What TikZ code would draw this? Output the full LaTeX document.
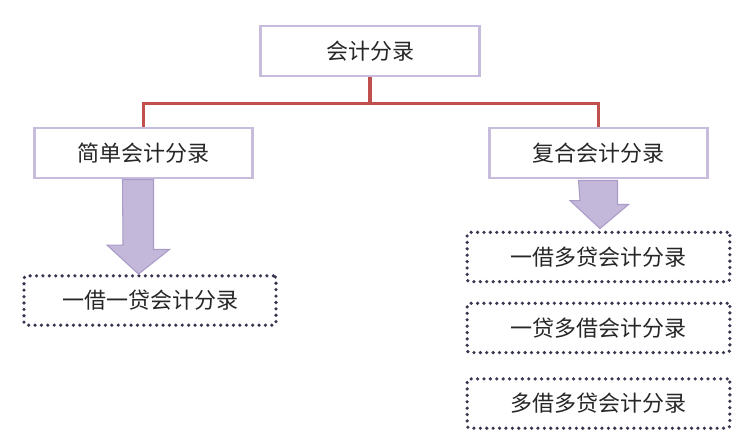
\documentclass[tikz,border=0pt]{standalone}
\usepackage{fontspec}
\usepackage{xcolor}
\usepackage{tikz}
\usetikzlibrary{positioning,calc}
\newfontfamily\cjk{Noto Sans CJK SC}
\definecolor{boxline}{RGB}{200,188,220}
\definecolor{linkred}{RGB}{192,80,77}
\definecolor{arrowfill}{RGB}{196,184,218}
\definecolor{arrowline}{RGB}{170,155,200}
\definecolor{dotline}{RGB}{60,52,80}
\definecolor{txt}{RGB}{38,38,38}

\begin{document}
\begin{tikzpicture}[x=0.75pt,y=-0.75pt,every node/.style={font=\cjk\fontsize{16.5}{20}\selectfont,text=txt}]
  \tikzstyle{cat}=[draw=boxline, line width=2.2pt, fill=white, minimum width=164pt, minimum height=37.5pt, inner sep=0pt]
  \tikzstyle{kind}=[draw=dotline, line width=2.7pt, line cap=round, dash pattern=on 0pt off 4.8pt, rounded corners=2pt, minimum height=37pt, inner sep=0pt]
  \tikzstyle{link}=[draw=linkred, line width=2.3pt]
  \tikzstyle{block}=[fill=arrowfill, draw=arrowline, line width=0.8pt, line join=miter]
  \useasboundingbox (0,0) rectangle (748,444);
  % top level
  \node[cat] (root) at (370,51) {会计分录};
  \node[cat] (simple) at (143.5,153) {简单会计分录};
  \node[cat] (compound) at (598.5,153) {复合会计分录};
  \draw[link] (root.south) -- ++(0,26) coordinate (fork) -| (simple.north);
  \draw[link] (fork) -| (compound.north);
  % leaves
  \node[kind, minimum width=189pt] (oneone) at (150,300.5) {一借一贷会计分录};
  \node[kind, minimum width=197pt] (onemany) at (598.5,257) {一借多贷会计分录};
  \node[kind, minimum width=197pt, below=13.5pt of onemany] (manyone) {一贷多借会计分录};
  \node[kind, minimum width=197pt, below=17pt of manyone] (manymany) {多借多贷会计分录};
  % block arrows
  \draw[block] ($(simple.south)+(-21,0)$) -- ++(31,0) -- ++(0,70) -- ++(16,0)
    -- ($(oneone.north)+(-11.5,0)$) -- ++(-31.5,-29) -- ++(16,0) -- cycle;
  \draw[block] ($(compound.south)+(-20,1)$) -- ++(39,0) -- ++(0,24) -- ++(11,0)
    -- ($(onemany.north)+(1.5,-2)$) -- ++(-30,-28) -- ++(10,0) -- cycle;
\end{tikzpicture}
\end{document}
